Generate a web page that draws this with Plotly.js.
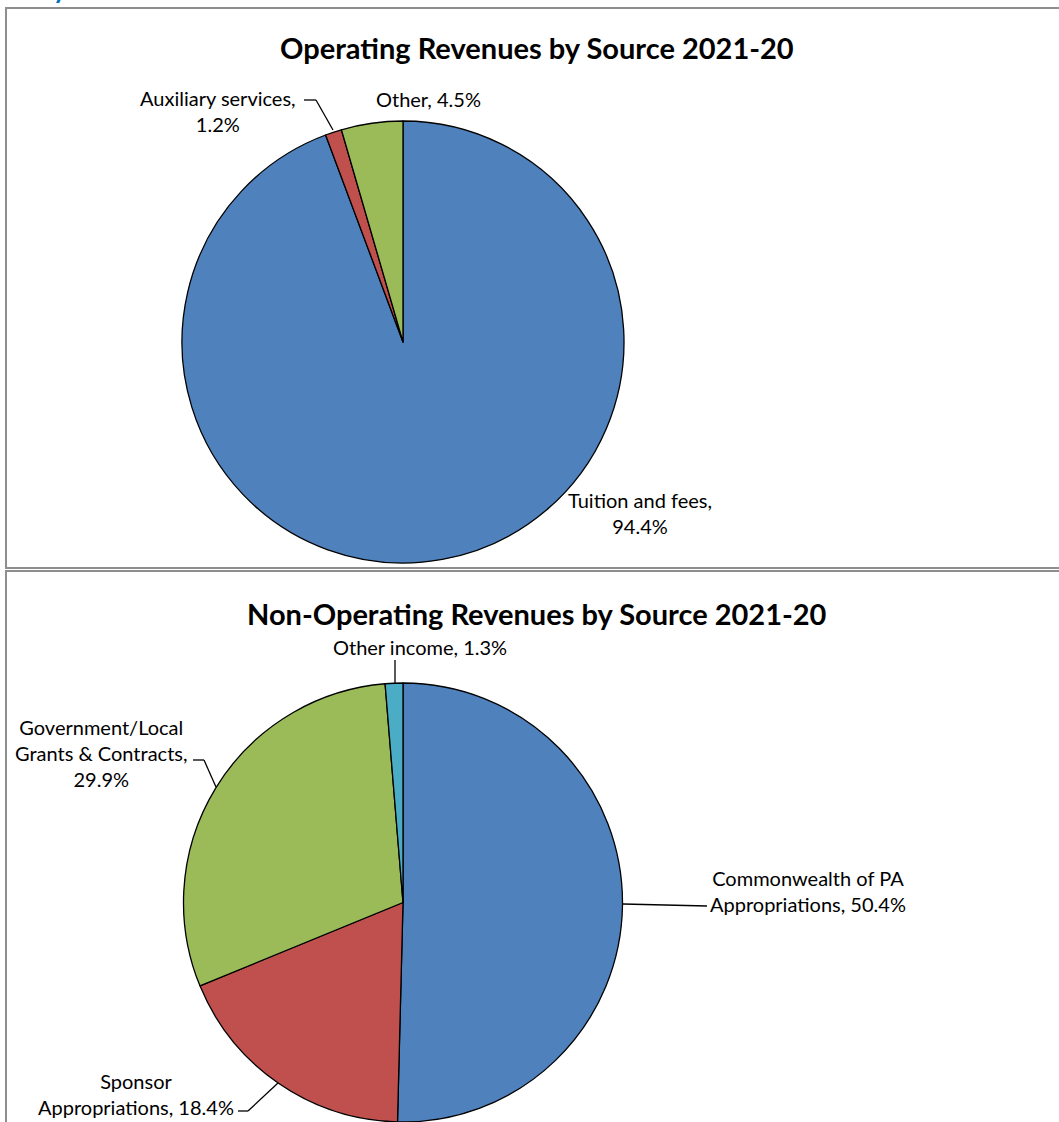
<!DOCTYPE html>
<html>
<head>
<meta charset="utf-8">
<script src="https://cdn.plot.ly/plotly-3.0.1.min.js"></script>
<style>
html,body{margin:0;padding:0;background:#fff;}
#chart{width:1059px;height:1122px;}
</style>
</head>
<body>
<div id="chart"></div>
<script>
// ---- data ----
const opTitle = 'Operating Revenues by Source 2021-20';
const opLabels = ['Tuition and fees', 'Auxiliary services', 'Other'];
const opValues = [94.4, 1.2, 4.5];
const opColors = ['#4F81BD', '#C0504D', '#9BBB59'];

const nonOpTitle = 'Non-Operating Revenues by Source 2021-20';
const nonOpLabels = ['Commonwealth of PA Appropriations', 'Sponsor Appropriations', 'Government/Local Grants & Contracts', 'Other income'];
const nonOpValues = [50.4, 18.4, 29.9, 1.3];
const nonOpColors = ['#4F81BD', '#C0504D', '#9BBB59', '#4BACC6'];

// label line breaks (how each data label wraps)
const opLabelLines = [['Tuition and fees,'], ['Auxiliary services,'], ['Other,']];
const nonOpLabelLines = [['Commonwealth of PA', 'Appropriations,'], ['Sponsor', 'Appropriations,'], ['Government/Local', 'Grants & Contracts,'], ['Other income,']];
const opPctOwnLine = [true, true, false];
const nonOpPctOwnLine = [false, false, true, false];

// ---- helpers ----
const W = 1059, H = 1122;
const px = x => x / W;
const py = y => 1 - y / H;
const FONT = 'Lato, "Open Sans", sans-serif';
const LABEL_SIZE = 20;

function labelText(lines, value, ownLine) {
  const pct = value.toFixed(1) + '%';
  const l = lines.slice();
  if (ownLine) l.push(pct); else l[l.length - 1] = l[l.length - 1] + ' ' + pct;
  return l.join('<br>');
}

const traces = [
  {
    type: 'pie', labels: opLabels, values: opValues, sort: false,
    direction: 'clockwise', rotation: 0,
    marker: {colors: opColors, line: {color: '#000', width: 1.3}},
    textinfo: 'none', hoverinfo: 'label+percent', showlegend: false,
    domain: {x: [px(182), px(624)], y: [py(563), py(121)]}
  },
  {
    type: 'pie', labels: nonOpLabels, values: nonOpValues, sort: false,
    direction: 'clockwise', rotation: 0,
    marker: {colors: nonOpColors, line: {color: '#000', width: 1.3}},
    textinfo: 'none', hoverinfo: 'label+percent', showlegend: false,
    domain: {x: [px(183), px(623)], y: [0, py(683)]}
  }
];

// label positions (pixel centres)
const opLabelPos = [[640, 513], [218, 111], [428, 99]];
const nonOpLabelPos = [[808, 891], [136, 1094], [102, 753], [420, 647]];

const annotations = [];
function addTitle(text, x, y) {
  annotations.push({text: '<b>' + text + '</b>', x: px(x), y: py(y), xref: 'paper', yref: 'paper',
    xanchor: 'center', yanchor: 'middle', showarrow: false, font: {family: FONT, size: 29, color: '#000'}});
}
addTitle(opTitle, 537, 48);
addTitle(nonOpTitle, 537, 613);

opLabels.forEach((l, i) => {
  annotations.push({text: labelText(opLabelLines[i], opValues[i], opPctOwnLine[i]),
    x: px(opLabelPos[i][0]), y: py(opLabelPos[i][1]), xref: 'paper', yref: 'paper',
    xanchor: 'center', yanchor: 'middle', showarrow: false, align: 'center',
    font: {family: FONT, size: LABEL_SIZE, color: '#000'}});
});
nonOpLabels.forEach((l, i) => {
  annotations.push({text: labelText(nonOpLabelLines[i], nonOpValues[i], nonOpPctOwnLine[i]),
    x: px(nonOpLabelPos[i][0]), y: py(nonOpLabelPos[i][1]), xref: 'paper', yref: 'paper',
    xanchor: 'center', yanchor: 'middle', showarrow: false, align: 'center',
    font: {family: FONT, size: LABEL_SIZE, color: '#000'}});
});

// clipped heading fragment above the first box
annotations.push({text: '<b>y</b>', x: px(60), y: py(-11), xref: 'paper', yref: 'paper',
  xanchor: 'center', yanchor: 'middle', showarrow: false, font: {family: FONT, size: 26, color: '#0070C0'}});

// leader lines (pixel polylines)
const leaders = [
  [[304, 100], [316, 100], [333, 130]],
  [[395, 660], [395, 684]],
  [[193, 760], [204, 760], [216, 787]],
  [[623, 904], [707, 906]],
  [[238, 1111], [248, 1111], [278, 1083]]
];
const shapes = [];
leaders.forEach(pts => {
  for (let i = 0; i < pts.length - 1; i++) {
    shapes.push({type: 'line', xref: 'paper', yref: 'paper',
      x0: px(pts[i][0]), y0: py(pts[i][1]), x1: px(pts[i + 1][0]), y1: py(pts[i + 1][1]),
      line: {color: '#000', width: 1.3}});
  }
});
// box borders
shapes.push({type: 'rect', xref: 'paper', yref: 'paper', x0: px(6), y0: py(8), x1: px(1065), y1: py(568),
  line: {color: '#8E8E8E', width: 2}});
shapes.push({type: 'rect', xref: 'paper', yref: 'paper', x0: px(6), y0: py(571), x1: px(1065), y1: py(1130),
  line: {color: '#8E8E8E', width: 2}});

const layout = {
  width: W, height: H,
  margin: {l: 0, r: 0, t: 0, b: 0},
  paper_bgcolor: '#fff', plot_bgcolor: '#fff',
  annotations: annotations, shapes: shapes,
  font: {family: FONT}
};
Plotly.newPlot('chart', traces, layout, {displayModeBar: false, staticPlot: true});
</script>
</body>
</html>
